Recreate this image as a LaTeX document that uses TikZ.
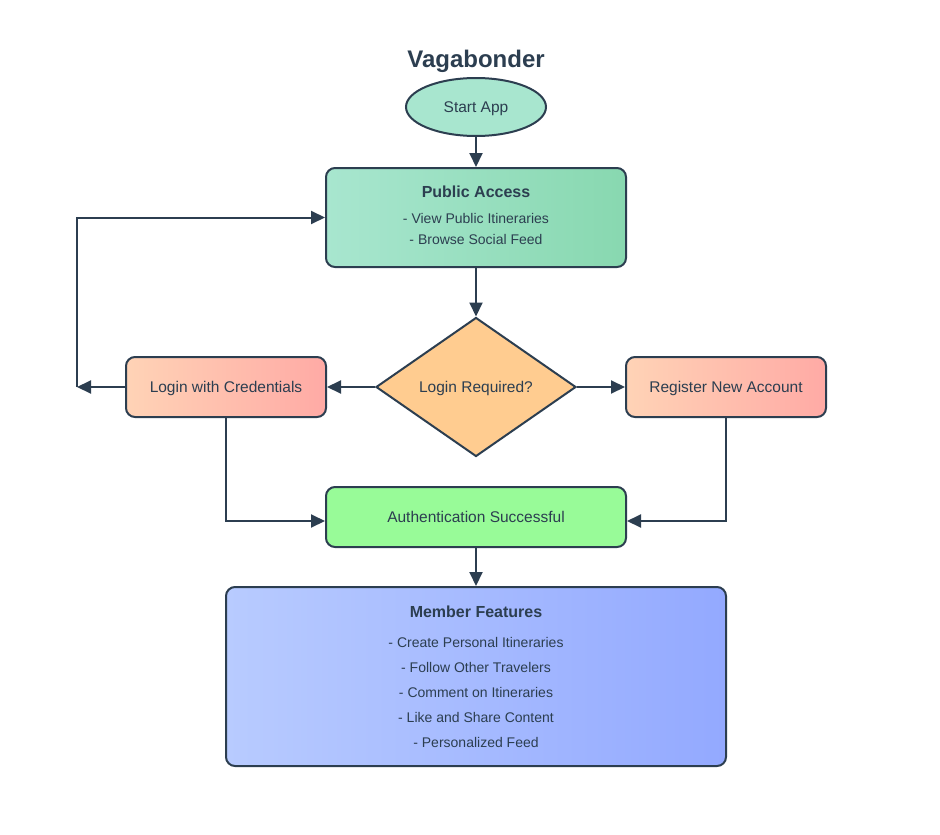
\documentclass[tikz,border=0pt]{standalone}
\usepackage{fontspec}
\setmainfont{Liberation Sans}
\usetikzlibrary{arrows.meta,shapes.geometric,calc}
\definecolor{ink}{HTML}{2C3E50}
\definecolor{pubL}{HTML}{A8E6CF}
\definecolor{pubR}{HTML}{88D8B0}
\definecolor{logL}{HTML}{FFD3B6}
\definecolor{logR}{HTML}{FFAAA5}
\definecolor{dia}{HTML}{FFCC90}
\definecolor{auth}{HTML}{98FB98}
\definecolor{memL}{HTML}{B8CBFF}
\definecolor{memR}{HTML}{93A9FF}
\tikzset{
  box/.style={draw=ink, line width=2pt, rounded corners=9pt, text=ink, align=center, inner sep=0pt, text depth=0pt},
  conn/.style={draw=ink, line width=2pt, -{Triangle[length=14pt,width=13pt]}},
  ttl/.style={text=ink, font=\fontsize{16}{19}\selectfont\bfseries},
  itm/.style={text=ink, font=\fontsize{14}{17}\selectfont},
}
\begin{document}
\begin{tikzpicture}[x=1pt,y=-1pt, font=\fontsize{15.5}{18}\selectfont]
\useasboundingbox (0,0) rectangle (940,835);
\fill[white] (0,0) rectangle (940,835);

\node[text=ink, font=\fontsize{24}{28}\selectfont\bfseries] (title) at (476,61) {Vagabonder};

\node[ellipse, draw=ink, line width=2pt, fill=pubL, text=ink, minimum width=140pt, minimum height=58pt, inner sep=0pt, text depth=0pt] (start) at (476,107) {Start App};

\node[box, left color=pubL, right color=pubR, minimum width=300pt, minimum height=99pt] (pub) at (476,217.5) {};
\node[ttl] (pubt) at (476,192) {Public Access};
\node[itm] (pub1) at (476,218) {- View Public Itineraries};
\node[itm] (pub2) at (476,239) {- Browse Social Feed};

\node[diamond, draw=ink, line width=2pt, fill=dia, text=ink, minimum width=200pt, minimum height=139pt, inner sep=0pt, aspect=1.44, text depth=0pt] (dec) at (476,387) {Login Required?};

\node[box, left color=logL, right color=logR, minimum width=200pt, minimum height=60pt] (login) at (226,387) {Login with Credentials};
\node[box, left color=logL, right color=logR, minimum width=200pt, minimum height=60pt] (reg) at (726,387) {Register New Account};

\node[box, fill=auth, minimum width=300pt, minimum height=60pt] (auth) at (476,517) {Authentication Successful};

\node[box, left color=memL, right color=memR, minimum width=500pt, minimum height=179pt] (mem) at (476,676.5) {};
\node[ttl] (memt) at (476,612) {Member Features};
\node[itm] (m1) at (476,642) {- Create Personal Itineraries};
\node[itm] (m2) at (476,667) {- Follow Other Travelers};
\node[itm] (m3) at (476,692) {- Comment on Itineraries};
\node[itm] (m4) at (476,717) {- Like and Share Content};
\node[itm] (m5) at (476,742) {- Personalized Feed};

\coordinate (back) at (77,387);

\draw[conn] (start) -- (pub);
\draw[conn] (pub) -- (dec.north);
\draw[conn] (dec.west) -- (login.east);
\draw[conn] (dec.east) -- (reg.west);
\draw[conn] (login.west) -- (back);
\draw[conn] (back) |- (pub.west);
\draw[conn] (login.south) |- ($(auth.west)+(0,4)$);
\draw[conn] (reg.south) |- ($(auth.east)+(0,4)$);
\draw[conn] (auth) -- (mem);
\end{tikzpicture}
\end{document}
